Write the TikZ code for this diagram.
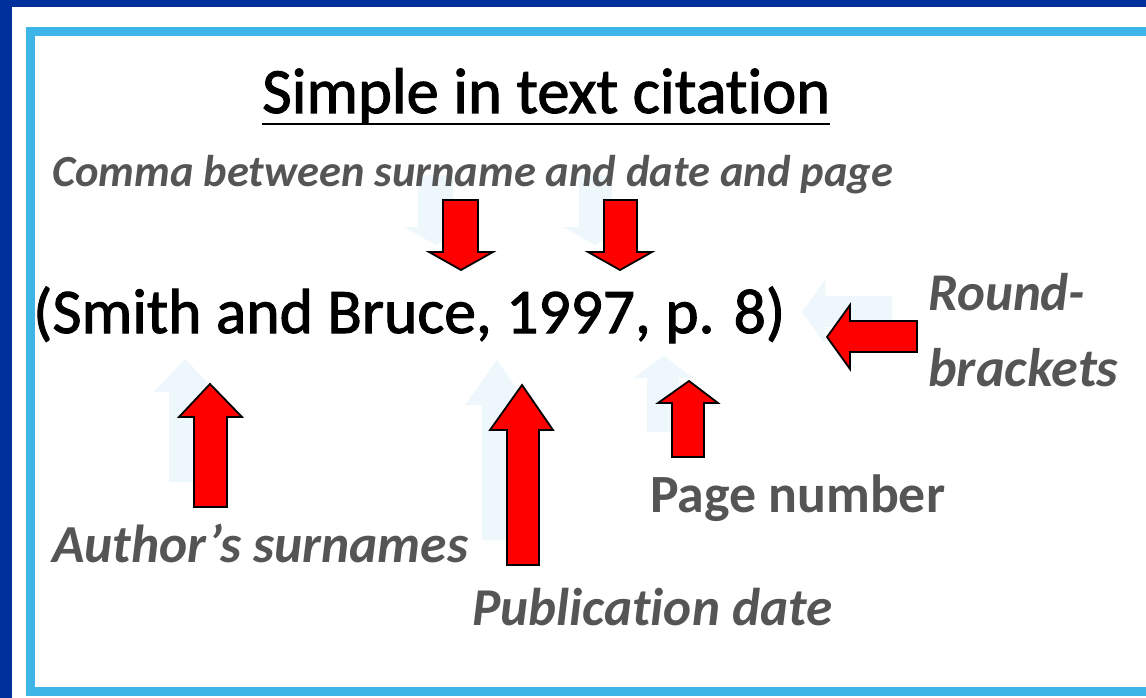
\documentclass[tikz,border=0pt]{standalone}
\usepackage{fontspec}
\setmainfont{Carlito}[Ligatures={NoCommon}]
\newfontfamily\heavyreg{Carlito}[Ligatures={NoCommon}, UprightFeatures={FakeBold=1.6}]
\usepackage{graphicx}
\definecolor{bgblue}{HTML}{00309C}
\definecolor{frameblue}{HTML}{3DB5E6}
\definecolor{shadowblue}{HTML}{EEF8FC}
\definecolor{labelgrey}{HTML}{555555}
\definecolor{arrred}{HTML}{FF0000}
\tikzset{
  redarrow/.style={fill=arrred, draw=black, line width=1.8pt, line join=miter},
  shadowarrow/.style={fill=shadowblue, draw=none},
  lbl/.style={anchor=base west, inner sep=0pt, text=labelgrey, font=\fontsize{30}{34}\selectfont\bfseries\itshape},
  maintext/.style={anchor=base west, inner sep=0pt, text=black, font=\heavyreg\fontsize{64}{70}\selectfont}
}
\begin{document}
\begin{tikzpicture}[x=1pt,y=-1pt]
\useasboundingbox (0,0) rectangle (1146,698);
\clip (0,0) rectangle (1146,698);
% background
\fill[bgblue] (0,0) rectangle (1146,698);
\fill[white] (12,7) rectangle (1160,710);
\draw[frameblue, line width=9pt] (30.5,32) rectangle (1158,691);

% shadows
\begin{scope}[shift={(-25,-25)}]
\path[shadowarrow] (194,507) -- (194,417) -- (179,417) -- (210,384) -- (242,417) -- (227,417) -- (227,507) -- cycle;
\path[shadowarrow] (507,565) -- (507,430) -- (490,430) -- (522,385) -- (553,430) -- (539,430) -- (539,565) -- cycle;
\path[shadowarrow] (672,457) -- (672,403) -- (658,403) -- (689,381) -- (718,403) -- (704,403) -- (704,457) -- cycle;
\path[shadowarrow] (443,200) -- (443,252) -- (429,252) -- (461,270) -- (493,252) -- (478,252) -- (478,200) -- cycle;
\path[shadowarrow] (604,200) -- (604,252) -- (588,252) -- (620,270) -- (652,252) -- (637,252) -- (637,200) -- cycle;
\path[shadowarrow] (917,321) -- (850,321) -- (850,305) -- (827,337) -- (850,369) -- (850,352) -- (917,352) -- cycle;
\end{scope}

% texts
\node[maintext] (title) at (262,113) {\resizebox{568pt}{!}{Simple in text citation}};
\draw[black, line width=2.5pt] ([yshift=-11pt]title.base west) -- ([yshift=-11pt]title.base east);
\node[lbl] (comma) at (52,186) {\resizebox{841pt}{!}{Comma between surname and date and page}};
\node[maintext] (cite) at (33,333) {\resizebox{752pt}{!}{(Smith and Bruce, 1997, p. 8)}};
\node[lbl] (round) at (928,310) {\resizebox{157pt}{!}{Round-}};
\node[lbl] (brackets) at (928,386) {\resizebox{190pt}{!}{brackets}};
\node[lbl, font=\fontsize{30}{34}\selectfont\bfseries] (page) at (650,512) {\resizebox{295pt}{!}{Page number}};
\node[lbl] (author) at (52,562) {\resizebox{416pt}{!}{Author’s surnames}};
\node[lbl] (pub) at (472,625) {\resizebox{360pt}{!}{Publication date}};

% red arrows
\path[redarrow] (194,507) -- (194,417) -- (179,417) -- (210,384) -- (242,417) -- (227,417) -- (227,507) -- cycle;
\path[redarrow] (507,565) -- (507,430) -- (490,430) -- (522,385) -- (553,430) -- (539,430) -- (539,565) -- cycle;
\path[redarrow] (672,457) -- (672,403) -- (658,403) -- (689,381) -- (718,403) -- (704,403) -- (704,457) -- cycle;
\path[redarrow] (443,200) -- (443,252) -- (429,252) -- (461,270) -- (493,252) -- (478,252) -- (478,200) -- cycle;
\path[redarrow] (604,200) -- (604,252) -- (588,252) -- (620,270) -- (652,252) -- (637,252) -- (637,200) -- cycle;
\path[redarrow] (917,321) -- (850,321) -- (850,305) -- (827,337) -- (850,369) -- (850,352) -- (917,352) -- cycle;
\end{tikzpicture}
\end{document}
